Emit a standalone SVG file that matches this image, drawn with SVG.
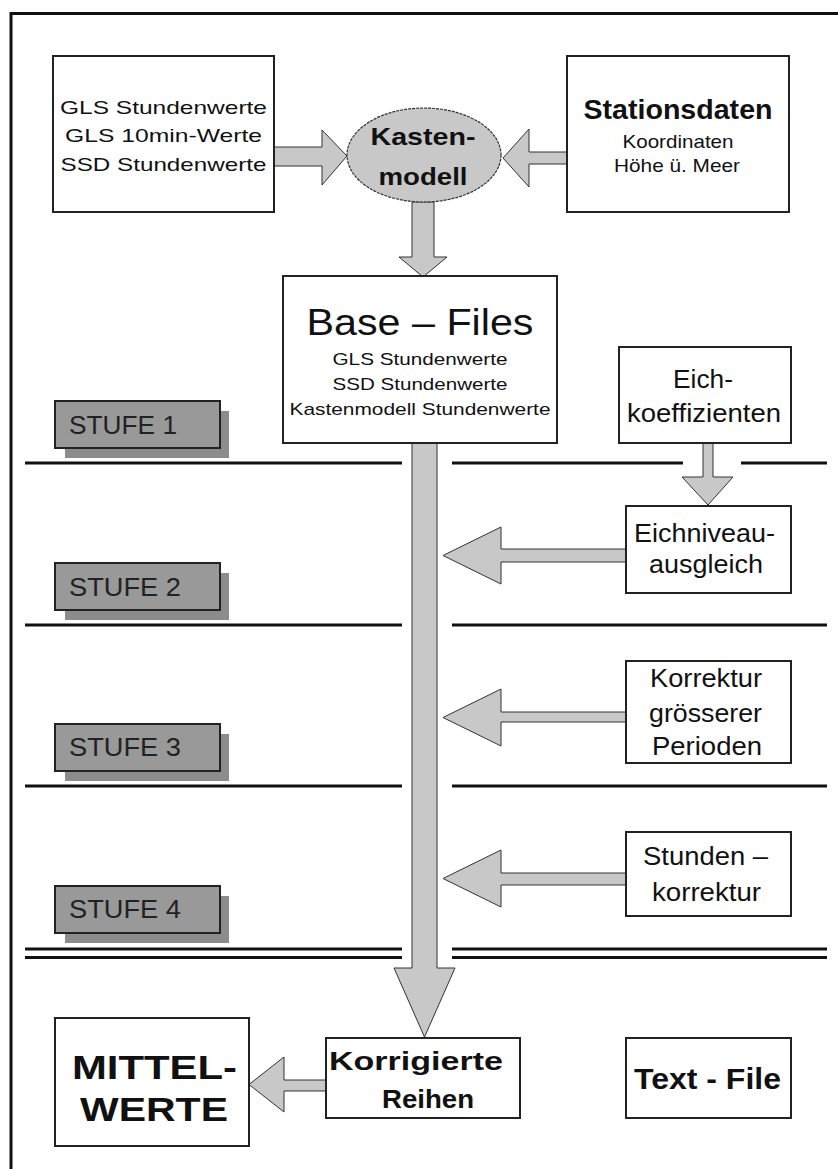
<svg xmlns="http://www.w3.org/2000/svg" width="838" height="1169" viewBox="0 0 838 1169">
<style>
text{font-family:"Liberation Sans",Arial,sans-serif;fill:#111;text-anchor:middle}
.box{fill:#fff;stroke:#222;stroke-width:2}
.arr{fill:#c8c8c8;stroke:#333;stroke-width:1}
.rule{stroke:#111;stroke-width:3;fill:none}
.stufe{fill:#999;stroke:#222;stroke-width:2}
.shadow{fill:#8c8c8c}
.st{font-size:26px;fill:#222;text-anchor:start}
.b{font-weight:bold}
</style>
<rect width="838" height="1169" fill="#fff"/>
<path class="rule" d="M11 1169 V13.5 H838"/>

<g id="rules">
<line class="rule" x1="25" y1="463" x2="402" y2="463"/>
<line class="rule" x1="452" y1="463" x2="683" y2="463"/>
<line class="rule" x1="741" y1="463" x2="827" y2="463"/>
<line class="rule" x1="25" y1="625" x2="402" y2="625"/>
<line class="rule" x1="452" y1="625" x2="827" y2="625"/>
<line class="rule" x1="25" y1="786" x2="402" y2="786"/>
<line class="rule" x1="452" y1="786" x2="827" y2="786"/>
<line class="rule" x1="25" y1="949" x2="402" y2="949"/>
<line class="rule" x1="452" y1="949" x2="827" y2="949"/>
<line class="rule" x1="25" y1="957.5" x2="402" y2="957.5"/>
<line class="rule" x1="452" y1="957.5" x2="827" y2="957.5"/>
</g>

<g id="stufe1"><rect class="shadow" x="65" y="411" width="164" height="47"/><rect class="stufe" x="55" y="401" width="165" height="47"/><text class="st" x="69" y="434" textLength="108" lengthAdjust="spacingAndGlyphs">STUFE 1</text></g>
<g id="stufe2"><rect class="shadow" x="65" y="573" width="164" height="47"/><rect class="stufe" x="55" y="563" width="165" height="47"/><text class="st" x="69" y="596" textLength="112" lengthAdjust="spacingAndGlyphs">STUFE 2</text></g>
<g id="stufe3"><rect class="shadow" x="65" y="734" width="164" height="47"/><rect class="stufe" x="55" y="724" width="165" height="47"/><text class="st" x="69" y="756" textLength="112" lengthAdjust="spacingAndGlyphs">STUFE 3</text></g>
<g id="stufe4"><rect class="shadow" x="65" y="896" width="164" height="47"/><rect class="stufe" x="55" y="886" width="165" height="47"/><text class="st" x="69" y="918" textLength="112" lengthAdjust="spacingAndGlyphs">STUFE 4</text></g>

<g id="connectors">
<polygon class="arr" points="274,147 322,147 322,130 347,156 322,185 322,166 274,166"/>
<polygon class="arr" points="567,152 529,152 529,129 503,158 529,187 529,164 567,164"/>
<polygon class="arr" points="412,202 434,202 434,257 447,257 423,277 399,257 412,257"/>
<polygon class="arr" points="412,443 437,443 437,968 455,968 424.5,1037 394,968 412,968"/>
<polygon class="arr" points="703,443 713,443 713,477 733,477 708,505 682,477 703,477"/>
<polygon class="arr" points="626,549 501,549 501,527 443,555.5 501,584 501,562 626,562"/>
<polygon class="arr" points="626,712 501,712 501,689 443,717.5 501,746 501,722 626,722"/>
<polygon class="arr" points="626,873 501,873 501,850 443,878.5 501,907 501,885 626,885"/>
<polygon class="arr" points="326,1080 284,1080 284,1057 249,1084.5 284,1112 284,1091 326,1091"/>
</g>

<g id="inputs">
<rect class="box" x="53" y="56" width="221" height="156"/>
<text x="163.5" y="114" font-size="19" textLength="207" lengthAdjust="spacingAndGlyphs">GLS Stundenwerte</text>
<text x="163.5" y="142" font-size="19" textLength="197" lengthAdjust="spacingAndGlyphs">GLS 10min-Werte</text>
<text x="163.5" y="171" font-size="19" textLength="206" lengthAdjust="spacingAndGlyphs">SSD Stundenwerte</text>
</g>

<g id="kastenmodell">
<ellipse cx="424" cy="155" rx="77" ry="47" fill="#c8c8c8" stroke="#333" stroke-width="1.2" stroke-dasharray="3 1"/>
<text class="b" x="423" y="145" font-size="24" textLength="105" lengthAdjust="spacingAndGlyphs">Kasten-</text>
<text class="b" x="423" y="185" font-size="24" textLength="89" lengthAdjust="spacingAndGlyphs">modell</text>
</g>

<g id="stationsdaten">
<rect class="box" x="567" y="56" width="222" height="156"/>
<text class="b" x="678" y="119" font-size="28" textLength="189" lengthAdjust="spacingAndGlyphs">Stationsdaten</text>
<text x="678" y="148" font-size="19" textLength="111" lengthAdjust="spacingAndGlyphs">Koordinaten</text>
<text x="677" y="172" font-size="19" textLength="126" lengthAdjust="spacingAndGlyphs">Höhe ü. Meer</text>
</g>

<g id="basefiles">
<rect class="box" x="283" y="276" width="274" height="167"/>
<text x="420" y="335" font-size="37" textLength="227" lengthAdjust="spacingAndGlyphs">Base – Files</text>
<text x="420" y="365" font-size="17" textLength="175" lengthAdjust="spacingAndGlyphs">GLS Stundenwerte</text>
<text x="420" y="390" font-size="17" textLength="175" lengthAdjust="spacingAndGlyphs">SSD Stundenwerte</text>
<text x="420" y="415" font-size="17" textLength="261" lengthAdjust="spacingAndGlyphs">Kastenmodell Stundenwerte</text>
</g>

<g id="eichkoeffizienten">
<rect class="box" x="619" y="347" width="172" height="96"/>
<text x="703" y="388" font-size="25" textLength="60" lengthAdjust="spacingAndGlyphs">Eich-</text>
<text x="704" y="422" font-size="25" textLength="154" lengthAdjust="spacingAndGlyphs">koeffizienten</text>
</g>

<g id="eichniveauausgleich">
<rect class="box" x="626" y="506" width="165" height="87"/>
<text x="704.5" y="542" font-size="25" textLength="141" lengthAdjust="spacingAndGlyphs">Eichniveau-</text>
<text x="706" y="573" font-size="25" textLength="114" lengthAdjust="spacingAndGlyphs">ausgleich</text>
</g>

<g id="korrektur">
<rect class="box" x="626" y="661" width="165" height="102"/>
<text x="706" y="687" font-size="25" textLength="112" lengthAdjust="spacingAndGlyphs">Korrektur</text>
<text x="705.5" y="722" font-size="25" textLength="113" lengthAdjust="spacingAndGlyphs">grösserer</text>
<text x="707" y="755" font-size="25" textLength="110" lengthAdjust="spacingAndGlyphs">Perioden</text>
</g>

<g id="stundenkorrektur">
<rect class="box" x="626" y="832" width="165" height="84"/>
<text x="705.5" y="865" font-size="25" textLength="125" lengthAdjust="spacingAndGlyphs">Stunden –</text>
<text x="706.5" y="901" font-size="25" textLength="109" lengthAdjust="spacingAndGlyphs">korrektur</text>
</g>

<g id="mittelwerte">
<rect class="box" x="55" y="1018" width="194" height="128"/>
<text class="b" x="154.5" y="1079" font-size="34" textLength="165" lengthAdjust="spacingAndGlyphs">MITTEL-</text>
<text class="b" x="154" y="1121" font-size="34" textLength="148" lengthAdjust="spacingAndGlyphs">WERTE</text>
</g>

<g id="korrigierte">
<rect class="box" x="326" y="1038" width="194" height="80"/>
<text class="b" x="416" y="1070" font-size="26" textLength="174" lengthAdjust="spacingAndGlyphs">Korrigierte</text>
<text class="b" x="428" y="1108" font-size="26" textLength="92" lengthAdjust="spacingAndGlyphs">Reihen</text>
</g>

<g id="textfile">
<rect class="box" x="626" y="1038" width="165" height="80"/>
<text class="b" x="707.5" y="1089" font-size="29" textLength="147" lengthAdjust="spacingAndGlyphs">Text - File</text>
</g>
</svg>
